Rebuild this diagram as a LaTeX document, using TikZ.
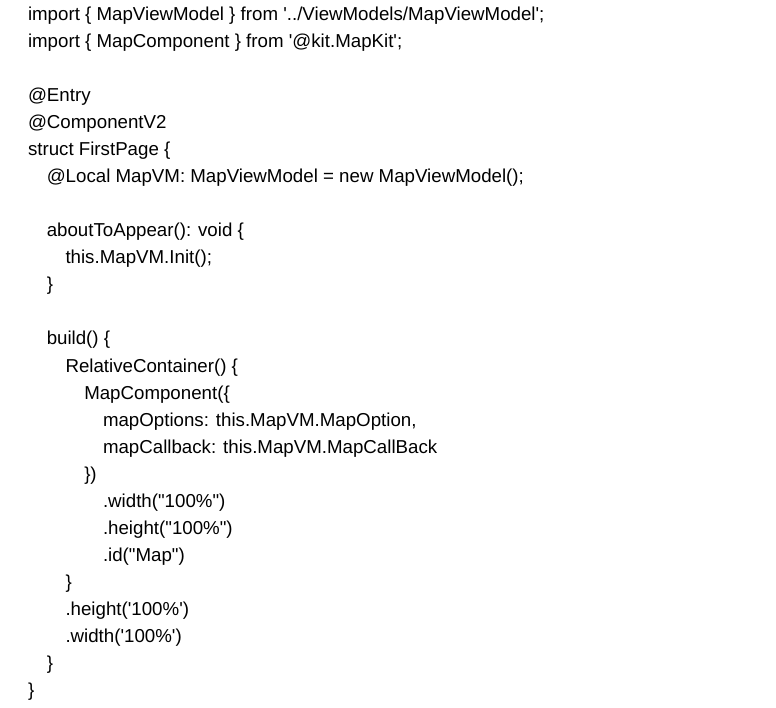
\documentclass[tikz,border=0pt]{standalone}
\usepackage{fontspec}
\newfontfamily\codefont{Liberation Sans}
\begin{document}
\begin{tikzpicture}[x=1pt,y=-1pt,
  ln/.style={anchor=base west,inner sep=0pt,outer sep=0pt,font=\codefont\fontsize{18.7}{22}\selectfont,text=black}]
\useasboundingbox[fill=white] (0,0) rectangle (776,708);
\def\pitch{27.04}
\def\bl{20.5}
\def\ind{18.75}
\node[ln] (l0) at (28+0*\ind,\bl+0*\pitch) {import \{ MapViewModel \} from \textquotesingle../ViewModels/MapViewModel\textquotesingle;};
\node[ln] (l1) at (28+0*\ind,\bl+1*\pitch) {import \{ MapComponent \} from \textquotesingle@kit.MapKit\textquotesingle;};
\node[ln] (l3) at (28+0*\ind,\bl+3*\pitch) {@Entry};
\node[ln] (l4) at (28+0*\ind,\bl+4*\pitch) {@ComponentV2};
\node[ln] (l5) at (28+0*\ind,\bl+5*\pitch) {struct FirstPage \{};
\node[ln] (l6) at (28+1*\ind,\bl+6*\pitch) {@Local MapVM: MapViewModel = new MapViewModel();};
\node[ln] (l8) at (28+1*\ind,\bl+8*\pitch) {aboutToAppear(): void \{};
\node[ln] (l9) at (28+2*\ind,\bl+9*\pitch) {this.MapVM.Init();};
\node[ln] (l10) at (28+1*\ind,\bl+10*\pitch) {\}};
\node[ln] (l12) at (28+1*\ind,\bl+12*\pitch) {build() \{};
\node[ln] (l13) at (28+2*\ind,\bl+13*\pitch) {RelativeContainer() \{};
\node[ln] (l14) at (28+3*\ind,\bl+14*\pitch) {MapComponent(\{};
\node[ln] (l15) at (28+4*\ind,\bl+15*\pitch) {mapOptions: this.MapVM.MapOption,};
\node[ln] (l16) at (28+4*\ind,\bl+16*\pitch) {mapCallback: this.MapVM.MapCallBack};
\node[ln] (l17) at (28+3*\ind,\bl+17*\pitch) {\})};
\node[ln] (l18) at (28+4*\ind,\bl+18*\pitch) {.width("100\%")};
\node[ln] (l19) at (28+4*\ind,\bl+19*\pitch) {.height("100\%")};
\node[ln] (l20) at (28+4*\ind,\bl+20*\pitch) {.id("Map")};
\node[ln] (l21) at (28+2*\ind,\bl+21*\pitch) {\}};
\node[ln] (l22) at (28+2*\ind,\bl+22*\pitch) {.height(\textquotesingle100\%\textquotesingle)};
\node[ln] (l23) at (28+2*\ind,\bl+23*\pitch) {.width(\textquotesingle100\%\textquotesingle)};
\node[ln] (l24) at (28+1*\ind,\bl+24*\pitch) {\}};
\node[ln] (l25) at (28+0*\ind,\bl+25*\pitch) {\}};
\end{tikzpicture}
\end{document}
